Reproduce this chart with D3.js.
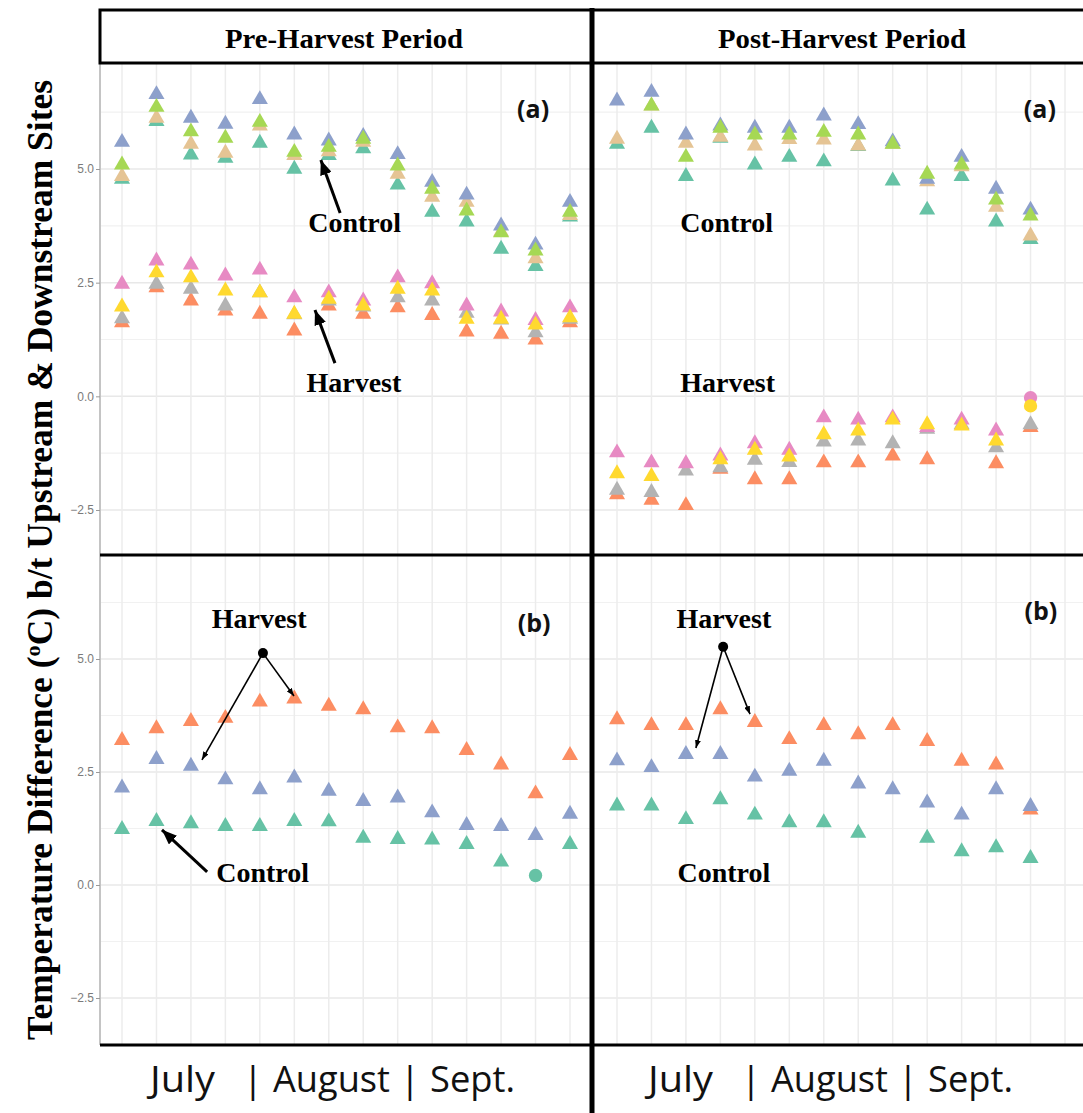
<!DOCTYPE html>
<html>
<head>
<meta charset="utf-8">
<script src="https://cdn.jsdelivr.net/npm/d3@7"></script>
<style>
  body { margin: 0; background: #fff; }
  svg { display: block; background: #fff; }
  .tick text { font-family: "Liberation Sans", Arial, sans-serif; font-size: 12px; fill: #7a7a7a; }
  .tick line { stroke: #9a9a9a; }
  .note { font-family: "Liberation Serif", "Times New Roman", serif; font-weight: bold; font-size: 28px; fill: #000; }
  .period { font-family: "Liberation Serif", "Times New Roman", serif; font-weight: bold; font-size: 27px; fill: #000; }
  .ytitle { font-family: "Liberation Serif", "Times New Roman", serif; font-weight: bold; font-size: 35px; fill: #000; }
  .panel-tag { font-family: "Open Sans", sans-serif; font-weight: bold; font-size: 25px; fill: #111; }
  .month { font-family: "Open Sans", sans-serif; font-size: 37px; fill: #111; }
</style>
</head>
<body>
<svg id="chart" width="1083" height="1113"></svg>
<script>
// Weekly sampling occasions (x categories)
const weeks = [1, 2, 3, 4, 5, 6, 7, 8, 9, 10, 11, 12, 13, 14];

// Pre-harvest, panel (a): control sites
const preA_blue   = [5.59, 6.64, 6.12, 5.99, 6.53, 5.75, 5.62, 5.72, 5.32, 4.71, 4.43, 3.75, 3.33, 4.27];
const preA_green  = [5.09, 6.36, 5.82, 5.68, 6.03, 5.37, 5.48, 5.66, 5.07, 4.56, 4.08, 3.60, 3.20, 4.05];
const preA_tan    = [4.84, 6.12, 5.55, 5.35, 5.95, 5.30, 5.38, 5.59, 4.89, 4.38, 4.27, 3.62, 3.03, 3.98];
const preA_teal   = [4.78, 6.05, 5.31, 5.24, 5.57, 5.00, 5.30, 5.45, 4.65, 4.05, 3.84, 3.24, 2.86, 3.95];
// Pre-harvest, panel (a): harvest sites
const preA_pink   = [2.47, 2.98, 2.89, 2.65, 2.78, 2.17, 2.28, 2.10, 2.61, 2.48, 1.99, 1.86, 1.67, 1.95];
const preA_yellow = [1.97, 2.72, 2.61, 2.32, 2.28, 1.81, 2.14, 1.99, 2.36, 2.32, 1.70, 1.70, 1.57, 1.73];
const preA_grey   = [1.71, 2.47, 2.36, 1.99, 2.28, 1.80, 2.10, 1.97, 2.17, 2.10, 1.83, 1.68, 1.40, 1.70];
const preA_orange = [1.62, 2.39, 2.10, 1.88, 1.81, 1.44, 1.99, 1.81, 1.95, 1.78, 1.42, 1.37, 1.24, 1.62];

// Post-harvest, panel (a): control sites
const postA_blue   = [6.50, 6.69, 5.75, 5.95, 5.90, 5.90, 6.17, 5.98, 5.60, 4.78, 5.26, 4.56, 4.10];
const postA_green  = [null, 6.39, 5.26, 5.90, 5.75, 5.75, 5.81, 5.75, 5.55, 4.89, 5.09, 4.32, 3.97];
const postA_tan    = [5.66, 6.39, 5.57, 5.70, 5.51, 5.65, 5.64, 5.51, 5.55, 4.72, 5.05, 4.16, 3.53];
const postA_teal   = [5.55, 5.90, 4.84, 5.68, 5.09, 5.26, 5.16, 5.50, 4.74, 4.10, 4.84, 3.84, 3.45];
// Post-harvest, panel (a): harvest sites
const postA_pink   = [-1.24, -1.46, -1.48, -1.31, -1.04, -1.18, -0.47, -0.52, -0.47, -0.68, -0.52, -0.76, -0.03];
const postA_yellow = [-1.70, -1.76, null, -1.39, -1.18, -1.33, -0.84, -0.76, -0.52, -0.62, -0.65, -0.98, -0.21];
const postA_grey   = [-2.06, -2.11, -1.64, -1.57, -1.40, -1.45, -1.00, -0.98, -1.04, -0.72, -0.62, -1.13, -0.62];
const postA_orange = [-2.16, -2.28, -2.40, -1.60, -1.83, -1.83, -1.46, -1.46, -1.31, -1.39, null, -1.48, -0.68];

// Panel (b)
const preB_orange  = [3.20, 3.46, 3.62, 3.69, 4.05, 4.12, 3.96, 3.88, 3.48, 3.46, 2.98, 2.66, 2.02, 2.87];
const preB_blue    = [2.15, 2.78, 2.63, 2.33, 2.11, 2.37, 2.08, 1.85, 1.93, 1.60, 1.32, 1.30, 1.10, 1.57];
const preB_teal    = [1.23, 1.41, 1.36, 1.30, 1.30, 1.41, 1.40, 1.04, 1.01, 1.00, 0.90, 0.51, 0.21, 0.90];
const postB_orange = [3.66, 3.53, 3.53, 3.88, 3.60, 3.22, 3.53, 3.33, 3.53, 3.18, 2.74, 2.66, 1.66];
const postB_blue   = [2.75, 2.60, 2.89, 2.89, 2.39, 2.52, 2.74, 2.24, 2.11, 1.82, 1.55, 2.11, 1.74];
const postB_teal   = [1.75, 1.75, 1.45, 1.89, 1.55, 1.38, 1.38, 1.15, null, 1.04, 0.74, 0.83, 0.59];

// Points drawn as circles instead of triangles: [panel, series, week index]
const circlePoints = [['postA', 'pink', 12], ['postA', 'yellow', 12], ['preB', 'teal', 12]];

const yTicks = [-2.5, 0, 2.5, 5];
const yMinor = [-1.25, 1.25, 3.75, 6.25];
const monthLabels = ['July', '|', 'August', '|', 'Sept.'];

// Set2 palette
const colors = {
    teal: '#66C2A5', orange: '#FC8D62', blue: '#8DA0CB', pink: '#E78AC3',
    green: '#A6D854', yellow: '#FFD92F', tan: '#E5C494', grey: '#B3B3B3'
};

const panels = [
    { id: 'preA', col: 0, row: 0, tag: '(a)', tagAt: [11.93, 6.34],
      series: [['teal', preA_teal], ['tan', preA_tan], ['orange', preA_orange], ['grey', preA_grey],
               ['blue', preA_blue], ['pink', preA_pink], ['green', preA_green], ['yellow', preA_yellow]] },
    { id: 'postA', col: 1, row: 0, tag: '(a)', tagAt: [12.27, 6.34],
      series: [['teal', postA_teal], ['tan', postA_tan], ['orange', postA_orange], ['grey', postA_grey],
               ['blue', postA_blue], ['pink', postA_pink], ['green', postA_green], ['yellow', postA_yellow]] },
    { id: 'preB', col: 0, row: 1, tag: '(b)', tagAt: [11.96, 5.82],
      series: [['teal', preB_teal], ['orange', preB_orange], ['blue', preB_blue]] },
    { id: 'postB', col: 1, row: 1, tag: '(b)', tagAt: [12.3, 6.08],
      series: [['teal', postB_teal], ['orange', postB_orange], ['blue', postB_blue]] }
];

// Annotations, in data units of their panel
const noteTexts = [
    ['preA', 'Control', 6.75, 3.61], ['preA', 'Harvest', 6.73, 0.095],
    ['postA', 'Control', 3.18, 3.61], ['postA', 'Harvest', 3.21, 0.095],
    ['preB', 'Harvest', 3.98, 5.69], ['preB', 'Control', 4.08, 0.066],
    ['postB', 'Harvest', 3.1, 5.69], ['postB', 'Control', 3.1, 0.066]
];
const noteArrows = [
    ['preA', [6.33, 4.03], [5.77, 5.2], 'big'],
    ['preA', [6.18, 0.73], [5.6, 1.9], 'big'],
    ['preB', [2.47, 0.29], [1.16, 1.22], 'big'],
    ['preB', [4.09, 5.13], [2.32, 2.77], 'small'],
    ['preB', [4.09, 5.13], [4.99, 4.18], 'small'],
    ['postB', [3.08, 5.27], [2.29, 3.03], 'small'],
    ['postB', [3.08, 5.27], [3.86, 3.78], 'small']
];
const noteDots = [['preB', 4.09, 5.13], ['postB', 3.08, 5.27]];

// Layout
const colX = [[100, 592], [592, 1083]];
const rowY = [[63, 555], [555, 1045]];
const xScales = [
    d3.scaleLinear().domain([0, 13]).range([122, 570]),
    d3.scaleLinear().domain([0, 13]).range([617, 1065])
];
const yScales = [
    d3.scaleLinear().domain([-2.5, 5]).range([510, 169]),
    d3.scaleLinear().domain([-2.5, 5]).range([998, 659])
];

const svg = d3.select('#chart');
const panelById = {};
panels.forEach(p => { panelById[p.id] = p; });
const px = (p, i) => xScales[p.col](i);
const py = (p, v) => yScales[p.row](v);

// Grid
const grid = svg.append('g').attr('class', 'grid');
panels.forEach(p => {
    const [x0, x1] = colX[p.col];
    const [y0, y1] = rowY[p.row];
    grid.selectAll(null).data(yMinor).join('line')
        .attr('x1', x0).attr('x2', x1)
        .attr('y1', d => py(p, d)).attr('y2', d => py(p, d))
        .attr('stroke', '#f1f1f1').attr('stroke-width', 1.2);
    grid.selectAll(null).data(yTicks).join('line')
        .attr('x1', x0).attr('x2', x1)
        .attr('y1', d => py(p, d)).attr('y2', d => py(p, d))
        .attr('stroke', '#e8e8e8').attr('stroke-width', 1.5);
    grid.selectAll(null).data(weeks).join('line')
        .attr('x1', (d, i) => px(p, i)).attr('x2', (d, i) => px(p, i))
        .attr('y1', y0).attr('y2', y1)
        .attr('stroke', '#ececec').attr('stroke-width', 1.5);
});

// Points
const triangle = d3.symbol().type(d3.symbolTriangle).size(112)();
const circle = d3.symbol().type(d3.symbolCircle).size(140)();
const isCircle = (pid, name, i) => circlePoints.some(c => c[0] === pid && c[1] === name && c[2] === i);

panels.forEach(p => {
    const g = svg.append('g').attr('class', 'points-' + p.id);
    p.series.forEach(([name, values]) => {
        const pts = values.map((v, i) => ({ i, v })).filter(d => d.v !== null);
        g.selectAll(null).data(pts).join('path')
            .attr('d', d => isCircle(p.id, name, d.i) ? circle : triangle)
            .attr('transform', d => `translate(${px(p, d.i)},${py(p, d.v)})`)
            .attr('fill', colors[name]);
    });
    g.append('text').attr('class', 'panel-tag')
        .attr('x', px(p, p.tagAt[0])).attr('y', py(p, p.tagAt[1]))
        .attr('text-anchor', 'middle').attr('dominant-baseline', 'central')
        .text(p.tag);
});

// Left axis (ticks only on the left column)
svg.append('line').attr('x1', 100).attr('x2', 100).attr('y1', 63).attr('y2', 1045)
    .attr('stroke', '#c4c4c4').attr('stroke-width', 2);
[0, 1].forEach(row => {
    const axis = svg.append('g').attr('transform', 'translate(100,0)')
        .call(d3.axisLeft(yScales[row]).tickValues(yTicks).tickFormat(d3.format('.1f'))
            .tickSize(4).tickPadding(2));
    axis.select('.domain').remove();
});

// Frames
svg.append('rect').attr('x', 100).attr('y', 10).attr('width', 492).attr('height', 53)
    .attr('fill', 'none').attr('stroke', '#000').attr('stroke-width', 3);
svg.append('rect').attr('x', 592).attr('y', 10).attr('width', 520).attr('height', 53)
    .attr('fill', 'none').attr('stroke', '#000').attr('stroke-width', 3);
svg.append('line').attr('x1', 100).attr('x2', 1083).attr('y1', 555).attr('y2', 555)
    .attr('stroke', '#000').attr('stroke-width', 3);
svg.append('line').attr('x1', 100).attr('x2', 1083).attr('y1', 1045).attr('y2', 1045)
    .attr('stroke', '#000').attr('stroke-width', 3);
svg.append('line').attr('x1', 592).attr('x2', 592).attr('y1', 8).attr('y2', 1113)
    .attr('stroke', '#000').attr('stroke-width', 5);

svg.append('text').attr('class', 'period').attr('x', 344).attr('y', 48)
    .attr('text-anchor', 'middle').attr('textLength', 238).attr('lengthAdjust', 'spacingAndGlyphs')
    .text('Pre-Harvest Period');
svg.append('text').attr('class', 'period').attr('x', 842).attr('y', 48)
    .attr('text-anchor', 'middle').attr('textLength', 248).attr('lengthAdjust', 'spacingAndGlyphs')
    .text('Post-Harvest Period');

// Y title
const yTitle = svg.append('text').attr('class', 'ytitle')
    .attr('transform', 'translate(52,560) rotate(-90)')
    .attr('text-anchor', 'middle').attr('textLength', 960).attr('lengthAdjust', 'spacingAndGlyphs');
yTitle.append('tspan').text('Temperature Difference (');
yTitle.append('tspan').attr('baseline-shift', 'super').attr('font-size', 22).text('o');
yTitle.append('tspan').text('C) b/t Upstream & Downstream Sites');

// Month labels under each column
const monthX = [[150, 65], [253, 0], [273, 117], [410, 0], [430, 85]];
[0, 498].forEach(offset => {
    svg.append('g').selectAll('text').data(monthLabels).join('text')
        .attr('class', 'month')
        .attr('x', (d, i) => monthX[i][0] + offset)
        .attr('y', 1092)
        .attr('text-anchor', (d, i) => monthX[i][1] ? 'start' : 'middle')
        .attr('textLength', (d, i) => monthX[i][1] || null)
        .attr('lengthAdjust', 'spacingAndGlyphs')
        .text(d => d);
});

// Annotations
const defs = svg.append('defs');
[['big', 15, 12], ['small', 8, 6]].forEach(([name, len, wid]) => {
    defs.append('marker').attr('id', 'head-' + name)
        .attr('markerUnits', 'userSpaceOnUse')
        .attr('viewBox', `${-len} ${-wid / 2} ${len} ${wid}`)
        .attr('markerWidth', len).attr('markerHeight', wid)
        .attr('refX', 0).attr('refY', 0).attr('orient', 'auto')
        .append('path').attr('d', `M0,0L${-len},${-wid / 2}L${-len},${wid / 2}Z`).attr('fill', '#000');
});

const notes = svg.append('g').attr('class', 'notes');
noteArrows.forEach(([pid, from, to, kind]) => {
    const p = panelById[pid];
    notes.append('line')
        .attr('x1', px(p, from[0])).attr('y1', py(p, from[1]))
        .attr('x2', px(p, to[0])).attr('y2', py(p, to[1]))
        .attr('stroke', '#000').attr('stroke-width', kind === 'big' ? 3 : 1.6)
        .attr('marker-end', `url(#head-${kind})`);
});
noteDots.forEach(([pid, i, v]) => {
    const p = panelById[pid];
    notes.append('circle').attr('cx', px(p, i)).attr('cy', py(p, v)).attr('r', 5).attr('fill', '#000');
});
noteTexts.forEach(([pid, label, i, v]) => {
    const p = panelById[pid];
    notes.append('text').attr('class', 'note')
        .attr('x', px(p, i)).attr('y', py(p, v))
        .attr('text-anchor', 'middle')
        .text(label);
});
</script>
</body>
</html>
